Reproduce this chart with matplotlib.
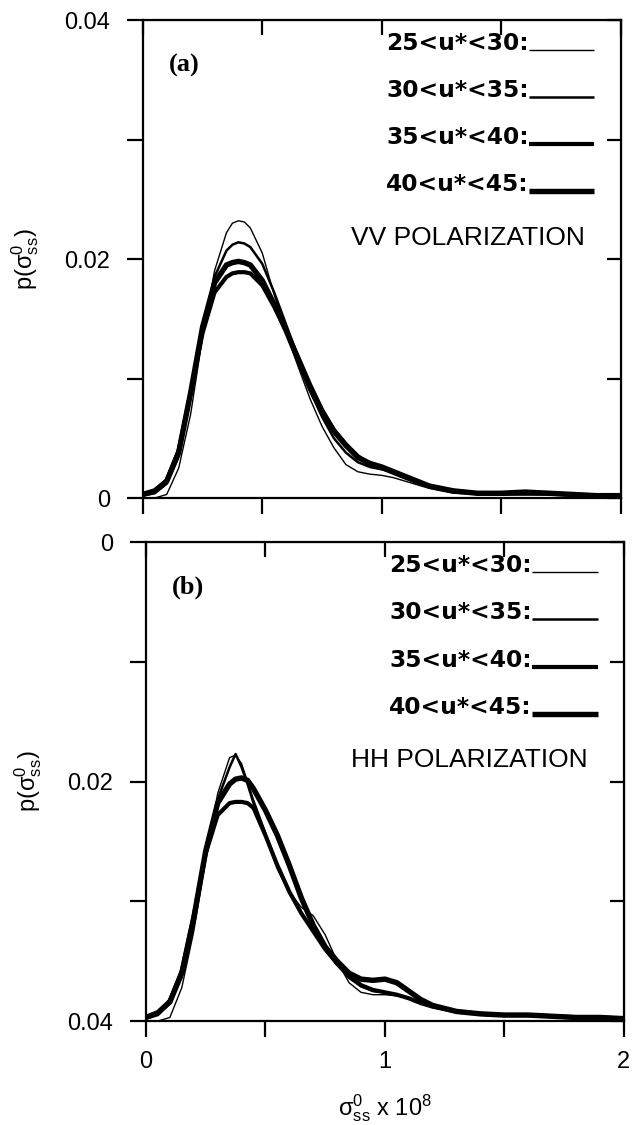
import numpy as np
import matplotlib.pyplot as plt

plt.rcParams['font.family'] = ['Liberation Sans', 'DejaVu Sans']
plt.rcParams['mathtext.default'] = 'regular'

# shared sigma grid (x 1e8)
sigma = [0, .05, .1, .15, .2, .25, .3, .35, .375, .4, .425, .45, .5, .55, .6, .65, .7,
         .75, .8, .85, .9, .95, 1.0, 1.05, 1.1, 1.15, 1.2, 1.3, 1.4, 1.5, 1.6, 1.7,
         1.8, 1.9, 2.0]

bins = ['25<u*<30:', '30<u*<35:', '35<u*<40:', '40<u*<45:']
widths = [1.0, 1.8, 3.0, 3.9]

# (a) VV polarization
vv_25 = [0, 0, .0003, .0025, .0070, .0135, .0190, .0222, .0230, .0232, .0231, .0226,
         .0205, .0170, .0138, .0110, .0083, .0060, .0042, .0028, .0022, .0020, .0019,
         .0017, .0014, .0011, .0008, .0004, .0003, .0003, .0003, .0003, .0002, .0001, .0001]
vv_30 = [.0002, .0004, .0012, .0035, .0085, .0140, .0185, .0207, .0212, .0214, .0213,
         .0210, .0196, .0172, .0145, .0118, .0090, .0068, .0050, .0038, .0030, .0026,
         .0024, .0022, .0017, .0013, .0010, .0006, .0004, .0003, .0003, .0003, .0002,
         .0002, .0001]
vv_35 = [.0003, .0006, .0015, .0040, .0088, .0138, .0172, .0185, .0188, .0189, .0189,
         .0188, .0178, .0160, .0140, .0118, .0095, .0074, .0057, .0045, .0035, .0028,
         .0025, .0021, .0017, .0013, .0010, .0006, .0004, .0004, .0004, .0004, .0003,
         .0002, .0002]
vv_40 = [.0003, .0006, .0014, .0038, .0088, .0143, .0180, .0195, .0197, .0198, .0197,
         .0195, .0182, .0162, .0140, .0116, .0092, .0072, .0056, .0044, .0034, .0029,
         .0026, .0022, .0018, .0014, .0010, .0006, .0004, .0004, .0005, .0004, .0003,
         .0002, .0002]

# (b) HH polarization
hh_25 = [0, 0, .0003, .0028, .0075, .0135, .0190, .0220, .0222, .0215, .0200, .0185,
         .0158, .0130, .0108, .0095, .0088, .0072, .0050, .0032, .0024, .0022, .0022,
         .0021, .0019, .0015, .0012, .0008, .0006, .0005, .0005, .0004, .0003, .0003, .0002]
hh_30 = [.0002, .0005, .0015, .0038, .0082, .0140, .0185, .0212, .0223, .0212, .0198,
         .0182, .0155, .0128, .0108, .0090, .0075, .0060, .0047, .0036, .0029, .0025,
         .0024, .0022, .0019, .0015, .0012, .0008, .0006, .0005, .0005, .0004, .0003,
         .0003, .0002]
hh_35 = [.0003, .0007, .0017, .0042, .0088, .0140, .0172, .0182, .0183, .0183, .0182,
         .0178, .0155, .0130, .0108, .0090, .0075, .0060, .0048, .0038, .0030, .0026,
         .0024, .0022, .0019, .0015, .0012, .0008, .0006, .0005, .0005, .0004, .0003,
         .0003, .0002]
hh_40 = [.0003, .0007, .0016, .0040, .0086, .0142, .0182, .0198, .0202, .0203, .0201,
         .0194, .0176, .0155, .0130, .0103, .0080, .0062, .0050, .0040, .0035, .0034,
         .0035, .0032, .0025, .0018, .0013, .0008, .0006, .0005, .0005, .0004, .0003,
         .0003, .0002]

y_ticks = [0, 0.01, 0.02, 0.03, 0.04]
y_labels_a = ['0', '', '0.02', '', '0.04']
y_labels_b = ['0.04', '', '0.02', '', '0']
x_ticks = [0, 0.5, 1, 1.5, 2]
x_labels = ['0', '', '1', '', '2']


def setup(ax, ylabels, xlabels):
    ax.set_xlim(0, 2)
    ax.set_ylim(0, 0.04)
    for s in ax.spines.values():
        s.set_linewidth(1.6)
    ax.set_xticks(x_ticks)
    ax.set_xticklabels(xlabels)
    ax.set_yticks(y_ticks)
    ax.set_yticklabels(ylabels)
    ax.tick_params(direction='out', length=11.5, width=1.6, labelsize=17,
                   top=False, right=False)
    ax.tick_params(axis='y', pad=12)
    ax.tick_params(axis='x', pad=10)
    # inward ticks on top / right
    top = ax.secondary_xaxis('top')
    top.set_xticks(x_ticks)
    top.set_xticklabels([])
    top.tick_params(direction='in', length=11, width=1.6)
    right = ax.secondary_yaxis('right')
    right.set_yticks(y_ticks)
    right.set_yticklabels([])
    right.tick_params(direction='in', length=10, width=1.6)
    ax.set_ylabel(r'p($\sigma^0_{ss}$)', fontsize=17, labelpad=17)


def legend(ax, pol):
    rows = [0.937, 0.839, 0.740, 0.642]
    for lab, lw, yy in zip(bins, widths, rows):
        ax.text(0.808, yy, lab, transform=ax.transAxes, fontsize=16.8,
                fontweight='bold', family='DejaVu Sans', va='baseline', ha='right')
        ax.plot([0.808, 0.945], [yy, yy], color='black', lw=lw,
                transform=ax.transAxes, solid_capstyle='butt')
    ax.text(0.925, 0.545, pol, transform=ax.transAxes, fontsize=19,
            ha='right', va='center')


fig = plt.figure(figsize=(6.32, 11.25), dpi=100)
ax1 = fig.add_axes([0.226, 0.5573, 0.756, 0.4249])
ax2 = fig.add_axes([0.231, 0.0924, 0.756, 0.4258])

for ys, lw in zip([vv_25, vv_30, vv_35, vv_40], widths):
    ax1.plot(sigma, ys, color='black', lw=lw)
for ys, lw in zip([hh_25, hh_30, hh_35, hh_40], widths):
    ax2.plot(sigma, ys, color='black', lw=lw)

setup(ax1, y_labels_a, [''] * 5)
setup(ax2, y_labels_b, x_labels)
legend(ax1, 'VV POLARIZATION')
legend(ax2, 'HH POLARIZATION')

ax1.text(0.055, 0.905, '(a)', transform=ax1.transAxes, fontsize=19,
         fontweight='bold', family='Liberation Serif', va='center')
ax2.text(0.055, 0.905, '(b)', transform=ax2.transAxes, fontsize=19,
         fontweight='bold', family='Liberation Serif', va='center')

ax2.set_xlabel(r'$\sigma^0_{ss}$ x 10$^8$', fontsize=17, labelpad=14)

fig.savefig('out.png', dpi=100)
